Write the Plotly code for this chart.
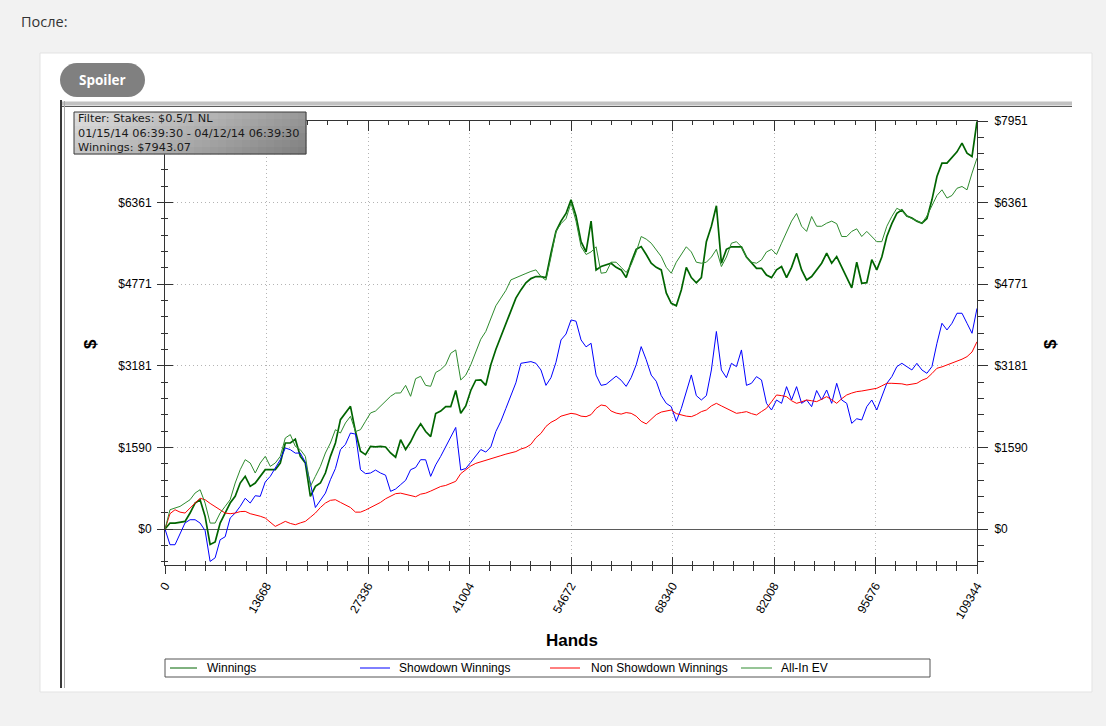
import plotly.graph_objects as go

# ---------------- data ----------------
HANDS = [
    0, 675, 1350, 2025, 2700, 3375, 4050, 4725, 5400, 6075,
    6750, 7425, 8100, 8775, 9450, 10125, 10800, 11475, 12150, 12825,
    13500, 14175, 14850, 15525, 16200, 16875, 17550, 18225, 18900, 19575,
    20250, 20925, 21600, 22275, 22950, 23625, 24300, 24975, 25650, 26325,
    27000, 27675, 28350, 29025, 29700, 30375, 31050, 31725, 32400, 33075,
    33750, 34425, 35100, 35775, 36450, 37125, 37800, 38475, 39150, 39825,
    40500, 41175, 41850, 42525, 43200, 43875, 44550, 45225, 45900, 46575,
    47250, 47925, 48600, 49275, 49950, 50625, 51300, 51975, 52650, 53325,
    54000, 54675, 55350, 56025, 56700, 57375, 58050, 58725, 59400, 60075,
    60750, 61425, 62100, 62775, 63450, 64125, 64800, 65475, 66150, 66825,
    67500, 68175, 68850, 69525, 70200, 70875, 71550, 72225, 72900, 73575,
    74250, 74925, 75600, 76275, 76950, 77625, 78300, 78975, 79650, 80325,
    81000, 81675, 82350, 83025, 83700, 84375, 85050, 85725, 86400, 87075,
    87750, 88425, 89100, 89775, 90450, 91125, 91800, 92475, 93150, 93825,
    94500, 95175, 95850, 96525, 97200, 97875, 98550, 99225, 99900, 100575,
    101250, 101925, 102600, 103275, 103950, 104625, 105300, 105975, 106650, 107325,
    108000, 108675, 109344,
]

WINNINGS = [
    0, 117, 117, 130, 150, 312, 507, 572, 247, -300,
    -250, 117, 312, 507, 637, 897, 1027, 832, 897, 1027,
    1157, 1157, 1157, 1287, 1677, 1677, 1750, 1417, 1287, 637,
    832, 897, 1092, 1417, 1677, 2132, 2262, 2392, 1900, 1515,
    1450, 1612, 1600, 1612, 1600, 1482, 1400, 1742, 1550, 1700,
    1900, 2050, 1900, 1800, 2250, 2300, 2385, 2385, 2700, 2255,
    2400, 2700, 2900, 2905, 2800, 3200, 3500, 3750, 4000, 4250,
    4500, 4660, 4800, 4880, 4920, 4920, 4900, 5375, 5800, 6000,
    6150, 6415, 6100, 5600, 5400, 6000, 5050, 5115, 5150, 5180,
    5100, 5050, 4900, 5200, 5450, 5505, 5350, 5180, 5100, 5050,
    4600, 4400, 4350, 4660, 5100, 4900, 4800, 4900, 5600, 5900,
    6300, 5180, 5450, 5500, 5500, 5500, 5300, 5180, 5080, 5080,
    4950, 4900, 5050, 5115, 4900, 5100, 5375, 5050, 4855, 4920,
    5050, 5180, 5375, 5180, 5310, 5115, 4900, 4700, 5200, 4790,
    4800, 5250, 5050, 5300, 5700, 5950, 6150, 6220, 6100, 6060,
    6000, 5960, 6050, 6415, 6870, 7130, 7130, 7230, 7350, 7520,
    7325, 7260, 7943,
]

SHOWDOWN = [
    0, -305, -305, -78, 120, 182, 182, 117, -30, -630,
    -560, -208, -150, 215, 312, 442, 600, 507, 650, 637,
    920, 1027, 1190, 1352, 1580, 1547, 1480, 1482, 1300, 897,
    420, 572, 700, 962, 1180, 1547, 1650, 1872, 1850, 1157,
    1080, 1092, 1150, 1092, 1050, 735, 780, 865, 950, 1157,
    1200, 1352, 1350, 1027, 1250, 1417, 1600, 1800, 1980, 1150,
    1180, 1300, 1420, 1550, 1500, 1600, 1900, 2100, 2350, 2600,
    2850, 3230, 3250, 3263, 3230, 3100, 2800, 2950, 3250, 3685,
    3800, 4075, 4050, 3685, 3550, 3620, 3000, 2800, 2820, 2900,
    2980, 2900, 2780, 2950, 3200, 3555, 3300, 3000, 2880, 2600,
    2450, 2385, 2100, 2350, 2700, 3003, 2600, 2515, 2600, 3100,
    3850, 3100, 2950, 3230, 3165, 3490, 2800, 2840, 2970, 2905,
    2450, 2320, 2515, 2450, 2775, 2515, 2775, 2450, 2515, 2385,
    2700, 2515, 2710, 2450, 2840, 2515, 2450, 2060, 2150, 2125,
    2385, 2515, 2320, 2580, 2840, 2970, 3165, 3230, 3165, 3100,
    3230, 3100, 3035, 3165, 3620, 4010, 3880, 4010, 4205, 4205,
    4010, 3815, 4300,
]

NON_SHOWDOWN = [
    0, 300, 377, 330, 312, 420, 507, 600, 572, 500,
    442, 380, 312, 300, 312, 340, 345, 300, 280, 250,
    215, 130, 52, 100, 150, 110, 85, 120, 150, 230,
    312, 420, 507, 560, 572, 520, 475, 420, 330, 330,
    370, 420, 470, 520, 590, 640, 690, 700, 680, 650,
    630, 680, 700, 740, 790, 830, 850, 890, 930, 1080,
    1160, 1230, 1280, 1313, 1340, 1370, 1400, 1430, 1460, 1490,
    1510, 1560, 1590, 1650, 1780, 1865, 2000, 2080, 2130, 2200,
    2230, 2255, 2240, 2200, 2190, 2230, 2350, 2418, 2400, 2300,
    2260, 2240, 2270, 2255, 2200, 2100, 2050, 2150, 2230, 2280,
    2300, 2320, 2250, 2220, 2200, 2190, 2230, 2288, 2320, 2400,
    2450, 2400, 2353, 2300, 2255, 2270, 2288, 2250, 2223, 2290,
    2353, 2480, 2613, 2600, 2580, 2500, 2450, 2480, 2515, 2500,
    2483, 2530, 2580, 2520, 2450, 2540, 2613, 2650, 2678, 2690,
    2710, 2730, 2743, 2790, 2840, 2840, 2840, 2830, 2808, 2820,
    2840, 2900, 2938, 3030, 3133, 3160, 3198, 3230, 3263, 3310,
    3360, 3450, 3650,
]

ALLIN_EV = [
    0, 377, 410, 442, 507, 572, 702, 767, 507, 117,
    117, 312, 442, 572, 897, 1157, 1352, 1287, 1092, 1287,
    1417, 1222, 1287, 1417, 1775, 1840, 1612, 1547, 1417, 832,
    1027, 1222, 1482, 1677, 1937, 1872, 2067, 2197, 1900, 1937,
    2100, 2262, 2300, 2392, 2500, 2587, 2650, 2652, 2800, 2587,
    2930, 2977, 2800, 2782, 3050, 3107, 3200, 3425, 3490, 2905,
    3000, 3200, 3450, 3700, 3850, 4100, 4350, 4500, 4650, 4855,
    4900, 4950, 4980, 5020, 5050, 4920, 4850, 5300, 5800, 5950,
    6050, 6350, 6000, 5505, 5350, 5400, 5500, 4985, 5000, 5200,
    5200, 5100, 5000, 5150, 5400, 5700, 5650, 5570, 5450, 5310,
    5100, 4985, 5200, 5350, 5500, 5400, 5200, 5180, 5200, 5300,
    5450, 5115, 5300, 5570, 5600, 5500, 5300, 5200, 5180, 5245,
    5400, 5450, 5350, 5570, 5800, 6000, 6150, 5900, 5800, 6090,
    5900, 5900, 5960, 6000, 5950, 5700, 5700, 5800, 5850, 5700,
    5800, 5700, 5600, 5600, 5900, 6090, 6250, 6200, 6100, 6050,
    6000, 5960, 6100, 6300, 6500, 6610, 6450, 6500, 6640, 6675,
    6610, 6935, 7228,
]

SERIES_NAMES = ["Winnings", "Showdown Winnings", "Non Showdown Winnings", "All-In EV"]
X_TICKS = [0, 13668, 27336, 41004, 54672, 68340, 82008, 95676, 109344]
X_LABELS = [str(v) for v in X_TICKS]
Y_TICKS = [0, 1590, 3181, 4771, 6361, 7951]
Y_LABELS = ["$0", "$1590", "$3181", "$4771", "$6361", "$7951"]
# on the left the top label is hidden behind the filter box in the original
Y_LABELS_LEFT = ["$0", "$1590", "$3181", "$4771", "$6361", ""]
FILTER_LINES = ["Filter: Stakes: $0.5/1 NL",
                "01/15/14 06:39:30 - 04/12/14 06:39:30",
                "Winnings: $7943.07"]
PAGE_LABEL = "После:"
BUTTON_LABEL = "Spoiler"
X_TITLE = "Hands"
Y_TITLE = "$"

# ---------------- geometry helpers (pixel -> paper) ----------------
W, H = 1106, 726
L, R, T, B = 165, 977, 121, 565
Y_RANGE = [-700, 7951]


def px(x):
    return (x - L) / (R - L)


def py(y):
    return (B - y) / (B - T)


def rect(x0, y0, x1, y1, fill=None, line=None, lw=1, layer="above"):
    return dict(type="rect", xref="paper", yref="paper",
                x0=px(x0), x1=px(x1), y0=py(y1), y1=py(y0),
                fillcolor=fill if fill else "rgba(0,0,0,0)",
                line=dict(color=line if line else "rgba(0,0,0,0)", width=lw if line else 0),
                layer=layer)


def seg(x0, y0, x1, y1, color, lw=1, layer="above"):
    return dict(type="line", xref="paper", yref="paper",
                x0=px(x0), x1=px(x1), y0=py(y0), y1=py(y1),
                line=dict(color=color, width=lw), layer=layer)


def text(x, y, s, size, color="#000", family="Liberation Sans", xanchor="left",
         yanchor="middle", angle=0, align="left"):
    return dict(xref="paper", yref="paper", x=px(x), y=py(y), text=s, showarrow=False,
                xanchor=xanchor, yanchor=yanchor, textangle=angle, align=align,
                font=dict(family=family, size=size, color=color), borderpad=0)


def pt(x, y):
    return f"{px(x):.5f},{py(y):.5f}"


shapes = []
annotations = []

# page panel
shapes.append(rect(40, 53, 1092, 692, fill="#ffffff", line="#e3e3e3", lw=1, layer="below"))

# spoiler pill
k = 9.39
pill = (f"M{pt(77,63)} L{pt(128,63)} C{pt(128+k,63)} {pt(145,80-k)} {pt(145,80)} "
        f"C{pt(145,80+k)} {pt(128+k,97)} {pt(128,97)} L{pt(77,97)} "
        f"C{pt(77-k,97)} {pt(60,80+k)} {pt(60,80)} C{pt(60,80-k)} {pt(77-k,63)} {pt(77,63)} Z")
shapes.append(dict(type="path", xref="paper", yref="paper", path=pill,
                   fillcolor="#808080", line=dict(width=0), layer="above"))
annotations.append(text(102.5, 80, f"<b>{BUTTON_LABEL}</b>", 13.5, "#ffffff", "Open Sans", "center"))
annotations.append(text(20, 21, PAGE_LABEL, 14.5, "#333333", "Open Sans"))

# chart image frame
shapes.append(rect(62, 101.5, 1072, 105.5, fill="#c2c2c2"))
shapes.append(seg(62, 106.5, 1072, 106.5, "#5a5a5a", 1.2))
shapes.append(seg(61, 100, 61, 688, "#3a3a3a", 2))
shapes.append(seg(64.5, 101, 64.5, 688, "#a8a8a8", 1))

# filter box with grey gradient
bx0, by0, bx1, by1 = 74, 112, 306, 154
ncol, nrow = 29, 6
for i in range(ncol):
    for j in range(nrow):
        u = (i + 0.5) / ncol
        v = (j + 0.5) / nrow
        c = int(226 - 100 * (0.72 * u + 0.28 * v))
        col = f"rgb({c},{c},{c})"
        x0 = bx0 + (bx1 - bx0) * i / ncol
        x1 = bx0 + (bx1 - bx0) * (i + 1) / ncol + 0.4
        y0 = by0 + (by1 - by0) * j / nrow
        y1 = by0 + (by1 - by0) * (j + 1) / nrow + 0.4
        shapes.append(rect(x0, y0, x1, y1, fill=col))
shapes.append(rect(bx0, by0, bx1, by1, line="#3c3c3c", lw=1))
annotations.append(text(76.5, 133, "<br>".join(FILTER_LINES), 11.3, "#1a1a1a", "DejaVu Sans"))

# axis titles
annotations.append(text(572, 640, f"<b>{X_TITLE}</b>", 17, "#000", "Liberation Sans", "center"))
annotations.append(text(90, 344, f"<b>{Y_TITLE}</b>", 17, "#000", "Liberation Sans", "center", angle=-90))
annotations.append(text(1050, 344, f"<b>{Y_TITLE}</b>", 17, "#000", "Liberation Sans", "center", angle=-90))

# custom legend
COLORS = ["#006400", "#0000ff", "#ff0000", "#2e8b2e"]
WIDTHS = [1.7, 1.0, 1.0, 1.0]
LEG_LINE_X = [(170, 197), (360, 390), (550, 580), (741, 772)]
LEG_TEXT_X = [206, 398, 590, 780]
shapes.append(rect(165, 659, 930, 677, fill="#ffffff", line="#555555", lw=1))
for name, col, (lx0, lx1), tx in zip(SERIES_NAMES, COLORS, LEG_LINE_X, LEG_TEXT_X):
    shapes.append(seg(lx0, 668, lx1, 668, col, 1))
    annotations.append(text(tx, 668, name, 12, "#000", "Liberation Sans"))

# ---------------- traces ----------------
fig = go.Figure()
series = [WINNINGS, SHOWDOWN, NON_SHOWDOWN, ALLIN_EV]
for idx in range(4):
    fig.add_trace(go.Scatter(x=HANDS, y=series[idx], mode="lines", name=SERIES_NAMES[idx],
                             line=dict(color=COLORS[idx], width=WIDTHS[idx]),
                             hoverinfo="skip", showlegend=False))

# dummy traces so overlay axes are drawn
for xa, ya in [("x2", "y"), ("x3", "y"), ("x", "y2"), ("x", "y3")]:
    fig.add_trace(go.Scatter(x=[0], y=[0], xaxis=xa, yaxis=ya, mode="lines",
                             showlegend=False, hoverinfo="skip"))

TICKFONT = dict(family="Liberation Sans", size=12, color="#000")
AX = "#333333"
GRID = "#b4b4b4"
DOT = "1px,3px"
XMINOR = 13668 / 5
YMINOR = 1590.2 / 5

fig.update_layout(
    width=W, height=H, autosize=False,
    margin=dict(l=L, r=W - R, t=T, b=H - B, pad=0),
    paper_bgcolor="#f2f2f2", plot_bgcolor="#ffffff",
    showlegend=False, hovermode=False, dragmode=False,
    shapes=shapes, annotations=annotations,
    xaxis=dict(range=[0, 109344], tickmode="array", tickvals=X_TICKS, ticktext=X_LABELS,
               tickangle=-60, ticks="outside", ticklen=8, tickcolor=AX, tickwidth=1,
               showline=True, linecolor=AX, linewidth=1,
               showgrid=True, gridcolor=GRID, griddash=DOT, gridwidth=1,
               zeroline=False, tickfont=TICKFONT, fixedrange=True,
               minor=dict(tick0=0, dtick=XMINOR, ticks="outside", ticklen=5,
                          tickcolor=AX, showgrid=False)),
    xaxis2=dict(overlaying="x", matches="x", anchor="y", side="bottom",
                tickmode="array", tickvals=X_TICKS, ticks="inside", ticklen=8,
                tickcolor=AX, showticklabels=False, showgrid=False, zeroline=False,
                showline=False,
                minor=dict(tick0=0, dtick=XMINOR, ticks="inside", ticklen=4, tickcolor=AX)),
    xaxis3=dict(overlaying="x", matches="x", anchor="y", side="top",
                tickmode="array", tickvals=X_TICKS, ticks="inside", ticklen=10,
                tickcolor=AX, showticklabels=False, showgrid=False, zeroline=False,
                showline=True, linecolor=AX, linewidth=1,
                minor=dict(tick0=0, dtick=XMINOR, ticks="inside", ticklen=4, tickcolor=AX)),
    yaxis=dict(range=Y_RANGE, tickmode="array", tickvals=Y_TICKS, ticktext=Y_LABELS_LEFT,
               ticks="outside", ticklen=7, tickcolor=AX, showline=True, linecolor=AX,
               linewidth=1, showgrid=True, gridcolor=GRID, griddash=DOT,
               gridwidth=1, zeroline=True, zerolinecolor="#5a5a5a", zerolinewidth=1,
               tickfont=TICKFONT, fixedrange=True, ticklabelstandoff=3,
               minor=dict(tick0=0, dtick=YMINOR, ticks="outside", ticklen=3,
                          tickcolor=AX, showgrid=False)),
    yaxis2=dict(overlaying="y", anchor="x", side="left", range=Y_RANGE,
                tickmode="array", tickvals=Y_TICKS, ticks="inside", ticklen=8,
                tickcolor=AX, showticklabels=False, showgrid=False, zeroline=False,
                showline=False,
                minor=dict(tick0=0, dtick=YMINOR, ticks="inside", ticklen=3, tickcolor=AX)),
    yaxis3=dict(overlaying="y", anchor="x", side="right", range=Y_RANGE,
                tickmode="array", tickvals=Y_TICKS, ticktext=Y_LABELS,
                ticks="outside", ticklen=10, tickcolor=AX, showticklabels=True,
                showgrid=False, zeroline=False, showline=True, linecolor=AX,
                linewidth=1, tickfont=TICKFONT, ticklabelstandoff=4,
                minor=dict(tick0=0, dtick=YMINOR, ticks="outside", ticklen=6, tickcolor=AX)),
)

fig.write_html("out.html",
               config={"displayModeBar": False, "staticPlot": True},
               post_script="document.body.style.margin='0px';document.body.style.padding='0px';")
